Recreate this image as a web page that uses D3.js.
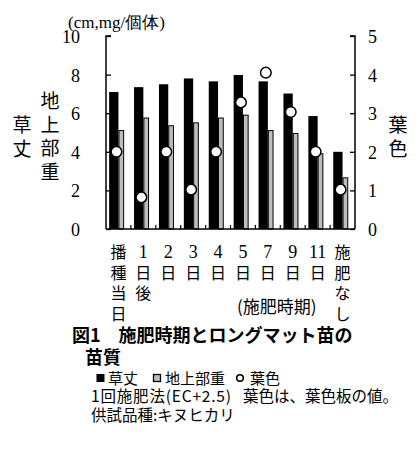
<!DOCTYPE html>
<html>
<head>
<meta charset="utf-8">
<script src="https://cdn.jsdelivr.net/npm/d3@7"></script>
<style>
  body { margin: 0; background: #fff; }
  svg { display: block; }
</style>
</head>
<body>
<div id="chart"></div>
<script>
// 施肥時期
const categories = ['播種当日', '1日後', '2日', '3日', '4日', '5日', '7日', '9日', '11日', '施肥なし'];
// x軸ラベル(縦書きの行)
const tickRows = [
  ['播', '種', '当', '日'],
  ['1', '日', '後'],
  ['2', '日'],
  ['3', '日'],
  ['4', '日'],
  ['5', '日'],
  ['7', '日'],
  ['9', '日'],
  ['11', '日'],
  ['施', '肥', 'な', 'し']
];
// 草丈 (cm)
const soushou = [7.1, 7.35, 7.5, 7.8, 7.65, 7.98, 7.65, 7.02, 5.85, 4.0];
// 地上部重 (mg/個体)
const chijoubu = [5.1, 5.75, 5.35, 5.5, 5.75, 5.9, 5.1, 4.95, 3.9, 2.65];
// 葉色
const youshoku = [2.0, 0.82, 2.0, 1.02, 2.0, 3.28, 4.05, 3.03, 2.0, 1.02];
const leftTicks = [0, 2, 4, 6, 8, 10];
const rightTicks = [0, 1, 2, 3, 4, 5];

const width = 420;
const height = 449;
const serif = '"Liberation Serif", "DejaVu Serif", serif';
const jp = '"Noto Sans CJK JP", sans-serif';

const svg = d3.select('#chart').append('svg')
  .attr('width', width)
  .attr('height', height);

const pLeft = 106, pRight = 355, pTop = 36, pBottom = 229;

const x = d3.scaleBand().domain(categories).range([pLeft, pRight]);
const yL = d3.scaleLinear().domain([0, 10]).range([pBottom, pTop]);
const yR = d3.scaleLinear().domain([0, 5]).range([pBottom, pTop]);

const blackW = 9.3, grayW = 5.7;

// 草丈
svg.selectAll('.b1')
  .data(categories)
  .enter()
  .append('rect')
  .attr('x', d => x(d) + x.bandwidth() / 2 - blackW)
  .attr('y', (d, i) => yL(soushou[i]))
  .attr('width', blackW)
  .attr('height', (d, i) => pBottom - yL(soushou[i]))
  .attr('fill', '#000');

// 地上部重
svg.selectAll('.b2')
  .data(categories)
  .enter()
  .append('rect')
  .attr('x', d => x(d) + x.bandwidth() / 2 + 0.5)
  .attr('y', (d, i) => yL(chijoubu[i]))
  .attr('width', grayW - 1)
  .attr('height', (d, i) => pBottom - yL(chijoubu[i]))
  .attr('fill', '#bdbdbd')
  .attr('stroke', '#000')
  .attr('stroke-width', 1);

// 軸
const leftAxis = d3.axisRight(yL).tickValues(leftTicks).tickSize(5).tickFormat('');
svg.append('g').attr('transform', `translate(${pLeft},0)`).call(leftAxis)
  .call(g => g.select('.domain').attr('d', `M5,${pTop}H0V${pBottom}`));
const rightAxis = d3.axisLeft(yR).tickValues(rightTicks).tickSize(5).tickFormat('');
svg.append('g').attr('transform', `translate(${pRight},0)`).call(rightAxis)
  .call(g => g.select('.domain').attr('d', `M-5,${pTop}H0V${pBottom}`));

svg.selectAll('.tick line').attr('stroke', '#000').attr('stroke-width', 1.3);
svg.selectAll('.domain').attr('stroke', '#000').attr('stroke-width', 1.5).attr('fill', 'none');

// 下側の区切り目盛
svg.append('line')
  .attr('x1', pLeft).attr('x2', pRight).attr('y1', pBottom).attr('y2', pBottom)
  .attr('stroke', '#000').attr('stroke-width', 1.5);
svg.selectAll('.sep')
  .data(categories.slice(1))
  .enter()
  .append('line')
  .attr('x1', d => x(d)).attr('x2', d => x(d))
  .attr('y1', pBottom).attr('y2', pBottom - 4)
  .attr('stroke', '#000').attr('stroke-width', 1.2);

// 葉色
svg.selectAll('.pt')
  .data(categories)
  .enter()
  .append('circle')
  .attr('cx', d => x(d) + x.bandwidth() / 2 - 2)
  .attr('cy', (d, i) => yR(youshoku[i]))
  .attr('r', 5.3)
  .attr('fill', '#fff')
  .attr('stroke', '#000')
  .attr('stroke-width', 1.5);

// 目盛ラベル
svg.selectAll('.ll')
  .data(leftTicks)
  .enter()
  .append('text')
  .attr('x', 80)
  .attr('y', d => yL(d) + 7)
  .attr('text-anchor', 'end')
  .attr('font-family', serif)
  .attr('font-size', 18)
  .text(d => d);
svg.selectAll('.rl')
  .data(rightTicks)
  .enter()
  .append('text')
  .attr('x', 368)
  .attr('y', d => yR(d) + 7)
  .attr('font-family', serif)
  .attr('font-size', 18)
  .text(d => d);

svg.append('text')
  .attr('x', 68).attr('y', 28)
  .attr('font-family', serif)
  .attr('font-size', 17)
  .text('(cm,mg/個体)');

// 縦書きの軸タイトル
function vertical(str, cx, y0, step, size) {
  svg.append('g').selectAll('text')
    .data(Array.from(str))
    .enter()
    .append('text')
    .attr('x', cx)
    .attr('y', (d, i) => y0 + i * step)
    .attr('text-anchor', 'middle')
    .attr('font-family', jp)
    .attr('font-size', size)
    .text(d => d);
}
vertical('草丈', 22, 132, 23.5, 19);
vertical('地上部重', 50, 108, 23.5, 19);
vertical('葉色', 398, 132, 23.5, 19);

// x軸ラベル
categories.forEach((c, i) => {
  const cx = x(c) + x.bandwidth() / 2;
  svg.append('g').selectAll('text')
    .data(tickRows[i])
    .enter()
    .append('text')
    .attr('x', cx)
    .attr('y', (d, j) => 258 + j * 20.5)
    .attr('text-anchor', 'middle')
    .attr('font-family', d => /\d/.test(d) ? serif : jp)
    .attr('font-size', d => /\d/.test(d) ? 18 : 16)
    .text(d => d);
});

svg.append('text')
  .attr('x', 237).attr('y', 313)
  .attr('font-family', jp)
  .attr('font-size', 17)
  .text('(施肥時期)');

// タイトル
svg.append('text')
  .attr('x', 72).attr('y', 342)
  .attr('font-family', jp)
  .attr('font-weight', 'bold')
  .attr('font-size', 18)
  .text('図1\u3000施肥時期とロングマット苗の');
svg.append('text')
  .attr('x', 85).attr('y', 364)
  .attr('font-family', jp)
  .attr('font-weight', 'bold')
  .attr('font-size', 18)
  .text('苗質');

// 凡例
svg.append('rect').attr('x', 96.5).attr('y', 374).attr('width', 8).attr('height', 8).attr('fill', '#000');
svg.append('text').attr('x', 108).attr('y', 384).attr('font-family', jp).attr('font-size', 15).text('草丈');
svg.append('rect').attr('x', 153.5).attr('y', 374.5).attr('width', 7).attr('height', 7)
  .attr('fill', '#bdbdbd').attr('stroke', '#000').attr('stroke-width', 1.3);
svg.append('text').attr('x', 165).attr('y', 384).attr('font-family', jp).attr('font-size', 15).text('地上部重');
svg.append('circle').attr('cx', 240).attr('cy', 378).attr('r', 3.3)
  .attr('fill', '#fff').attr('stroke', '#000').attr('stroke-width', 1.6);
svg.append('text').attr('x', 250).attr('y', 384).attr('font-family', jp).attr('font-size', 15).text('葉色');

svg.append('text').attr('x', 91).attr('y', 402).attr('font-family', jp).attr('font-size', 15.5)
  .attr('textLength', 140).attr('lengthAdjust', 'spacing')
  .text('1回施肥法(EC+2.5)');
svg.append('text').attr('x', 243).attr('y', 402).attr('font-family', jp).attr('font-size', 15.5)
  .text('葉色は、葉色板の値。');
svg.append('text').attr('x', 91).attr('y', 421).attr('font-family', jp).attr('font-size', 15.5)
  .text('供試品種:キヌヒカリ');
</script>
</body>
</html>
